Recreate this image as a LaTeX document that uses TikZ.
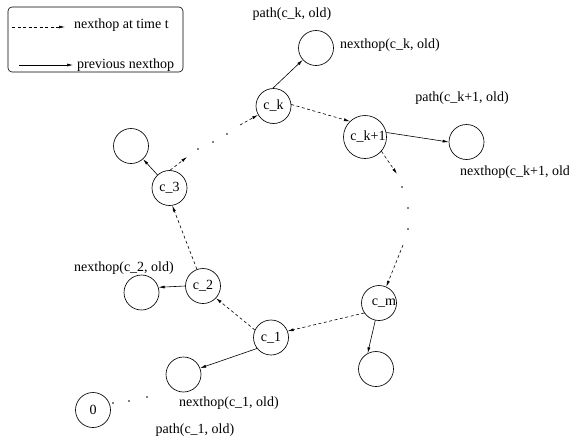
\documentclass[tikz,border=0pt]{standalone}
\usepackage{fontspec}
\setmainfont{Liberation Serif}
\usetikzlibrary{arrows.meta}

\begin{document}
\begin{tikzpicture}[x=1pt, y=-1pt,
  every node/.style={font=\fontsize{14}{16}\selectfont},
  vertex/.style={draw, circle, minimum size=35pt, inner sep=0pt, line width=0.65pt},
  lbl/.style={inner sep=0pt},
  tipped/.style={-{Latex[length=6pt,width=3pt]}},
  cur/.style={tipped, dash pattern=on 3pt off 2.5pt, line width=0.6pt},
  prev/.style={tipped, line width=0.6pt},
  gapdot/.style={circle, fill, inner sep=0pt, minimum size=1.6pt}
]
\useasboundingbox (0,0) rectangle (569,439);

% legend
\draw[line width=0.6pt, rounded corners=4pt] (8,7) rectangle (183,72);
\coordinate (la) at (12,27);
\coordinate (lb) at (65,27);
\coordinate (lc) at (19,65);
\coordinate (ld) at (73,65);
\draw[cur] (la) -- (lb);
\draw[prev] (lc) -- (ld);
\node[lbl, anchor=base west] (lt1) at (74,28) {nexthop at time t};
\node[lbl, anchor=base west] (lt2) at (77,68) {previous nexthop};

% nodes on the current path
\node[vertex] (ck)  at (273.5,106) {c\_k};
\node[vertex, minimum size=43pt, label={[lbl, xshift=3pt]center:c\_k+1}] (ck1) at (365,137) {};
\node[vertex, label={[lbl, xshift=5pt]center:c\_m}] (cm)  at (379,303) {};
\node[vertex] (c1)  at (271,337.5) {c\_1};
\node[vertex] (c2)  at (203,286) {c\_2};
\node[vertex] (c3)  at (169.5,188) {c\_3};
\node[vertex] (z)   at (93,410) {0};

% previous next hops
\node[vertex] (tk)  at (316,48) {};
\node[vertex] (rk)  at (466.5,142) {};
\node[vertex] (bm)  at (376,369) {};
\node[vertex] (n1)  at (183.5,374.5) {};
\node[vertex] (n2)  at (141.5,292.5) {};
\node[vertex] (n3)  at (131,146) {};

% labels
\node[lbl] (pk)  at (292,14) {path(c\_k, old)};
\node[lbl, anchor=west] (nk) at (340,45) {nexthop(c\_k, old)};
\node[lbl] (pk1) at (462,98) {path(c\_k+1, old)};
\node[lbl, anchor=west] (nk1) at (460,172) {nexthop(c\_k+1, old};
\node[lbl] (nt2) at (124,268) {nexthop(c\_2, old)};
\node[lbl] (nt1) at (229,403) {nexthop(c\_1, old)};
\node[lbl] (pt1) at (195,430) {path(c\_1, old)};

% current next hops
\coordinate (g1) at (187,157);
\coordinate (g2) at (240,125);
\coordinate (g3) at (397,174);
\coordinate (g4) at (403,245);
\draw[cur] (cm.214) -- (c1.21);
\draw[cur] (c1.155) -- (c2.317);
\draw[cur] (c2.110) -- (c3.279);
\draw[cur] (c3.88) -- (g1);
\draw[cur] (g2) -- (ck.210);
\draw[cur] (ck.5) -- (ck1.134);
\draw[cur] (ck1.319) -- (g3);
\draw[cur] (g4) -- (cm.66);

% omitted hops
\foreach \p in {(198,149),(213,142),(227,134),(402,187),(408,208),(408,229),(113,403),(129,401),(147,397)}
  \node[gapdot] at \p {};

% previous next hops
\draw[prev] (ck.92) -- (tk.222);
\draw[prev] (ck1.12) -- (rk.180);
\draw[prev] (cm.258) -- (bm.118);
\draw[prev] (c1.218) -- (n1.21);
\draw[prev] (c2.180) -- (n2.17);
\draw[prev] (c3) -- (n3);
\end{tikzpicture}
\end{document}
